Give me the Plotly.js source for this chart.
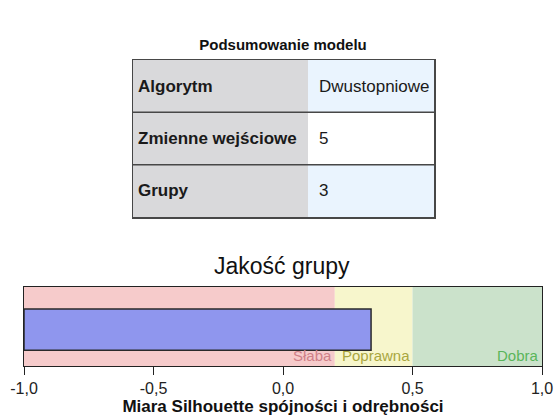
<!DOCTYPE html>
<html>
<head>
<meta charset="utf-8">
<script src="https://cdn.plot.ly/plotly-3.0.1.min.js"></script>
<style>html,body{margin:0;padding:0;background:#fff;}#chart{width:554px;height:417px;}</style>
</head>
<body>
<div id="chart"></div>
<script>
// ---- data ----
const tableLabels = ['Algorytm', 'Zmienne wejściowe', 'Grupy'];
const tableValues = ['Dwustopniowe', '5', '3'];
const silhouette = [0.34];
const bandEdges = [-1, 0.2, 0.5, 1];
const bandNames = ['Słaba', 'Poprawna', 'Dobra'];
const tickVals = [-1, -0.5, 0, 0.5, 1];
const tickText = ['-1,0', '-0,5', '0,0', '0,5', '1,0'];

// ---- styles ----
const W = 554, H = 417;
const FONT = 'Liberation Sans, Arial, sans-serif';
const bandColors = ['#f6cbcb', '#f7f6cc', '#cbe2cb'];
const bandTextColors = ['#cf8088', '#a9a63f', '#5ab55a'];
const cellColors = ['#d9d9db', '#eaf4fe', '#ffffff'];
const colWidths = [175, 126];
const BORDER = '#474747';

const px = v => v / W;
const py = v => 1 - v / H;

// table drawn as a heatmap on its own axes (row i, column j)
const colEdges = [0, colWidths[0], colWidths[0] + colWidths[1]];
const rowEdges = tableLabels.map((_, i) => i).concat([tableLabels.length]);
const tableZ = tableLabels.map((_, i) => [0, i % 2 === 0 ? 1 : 2]);

const tableTrace = {
  type: 'heatmap', xaxis: 'x2', yaxis: 'y2',
  x: colEdges, y: rowEdges, z: tableZ,
  zmin: 0, zmax: 2,
  colorscale: [[0, cellColors[0]], [0.5, cellColors[1]], [1, cellColors[2]]],
  showscale: false, hoverinfo: 'skip'
};

const bands = {
  type: 'bar', orientation: 'h',
  y: bandNames.map(() => 0),
  base: bandEdges.slice(0, -1),
  x: bandNames.map((_, i) => bandEdges[i + 1] - bandEdges[i]),
  width: bandNames.map(() => 1.2),
  marker: {color: bandColors, line: {width: 0}},
  hoverinfo: 'skip', showlegend: false
};

const bar = {
  type: 'bar', orientation: 'h',
  y: [0], base: [bandEdges[0]],
  x: silhouette.map(v => v - bandEdges[0]),
  width: [0.52],
  marker: {color: '#8f96ee', line: {color: '#2a2a2a', width: 1.5}},
  showlegend: false
};

const annotations = [];
tableLabels.forEach((t, i) => {
  annotations.push({
    text: '<b>' + t + '</b>', x: 3, y: i + 0.5, xref: 'x2', yref: 'y2',
    xanchor: 'left', yanchor: 'middle', showarrow: false,
    font: {family: FONT, size: 17, color: '#1a1a1a'}
  });
  annotations.push({
    text: tableValues[i], x: colWidths[0] + 9, y: i + 0.5, xref: 'x2', yref: 'y2',
    xanchor: 'left', yanchor: 'middle', showarrow: false,
    font: {family: FONT, size: 17, color: '#1a1a1a'}
  });
});
bandNames.forEach((n, i) => annotations.push({
  text: n, x: bandEdges[i + 1], y: -0.46, xref: 'x', yref: 'y',
  xanchor: 'right', yanchor: 'bottom', showarrow: false, xshift: -1, yshift: 0,
  font: {family: FONT, size: 15, color: bandTextColors[i]}
}));
annotations.push({
  text: 'Jakość grupy', x: px(282), y: py(266), xref: 'paper', yref: 'paper',
  xanchor: 'center', yanchor: 'middle', showarrow: false,
  font: {family: FONT, size: 23, color: '#111'}
});

// row separators of the table
const shapes = rowEdges.slice(1, -1).map(r => ({
  type: 'line', xref: 'x2 domain', yref: 'y2', x0: 0, x1: 1, y0: r, y1: r,
  line: {color: BORDER, width: 1.5}, layer: 'above'
}));

const layout = {
  width: W, height: H,
  margin: {l: 0, r: 0, t: 0, b: 0},
  paper_bgcolor: '#fff', plot_bgcolor: '#fff',
  barmode: 'overlay',
  showlegend: false,
  title: {
    text: '<b>Podsumowanie modelu</b>', x: px(283), xanchor: 'center',
    y: py(45), yref: 'container', yanchor: 'middle',
    font: {family: FONT, size: 15, color: '#111'}
  },
  xaxis: {
    domain: [px(24), px(542)], range: [-1, 1],
    tickvals: tickVals, ticktext: tickText,
    ticks: 'outside', ticklen: 8, tickcolor: '#222', tickwidth: 1,
    showline: true, linecolor: '#222', linewidth: 1, mirror: true,
    showgrid: false, zeroline: false, fixedrange: true,
    tickfont: {family: FONT, size: 16, color: '#222'},
    title: {text: '<b>Miara Silhouette spójności i odrębności</b>', standoff: 3,
            font: {family: FONT, size: 17, color: '#111'}},
    automargin: false
  },
  yaxis: {
    domain: [py(366), py(287)], range: [-0.46, 0.54],
    showticklabels: false, ticks: '', showgrid: false, zeroline: false,
    showline: true, linecolor: '#222', linewidth: 1, mirror: true, fixedrange: true
  },
  xaxis2: {
    domain: [px(133), px(434)], range: [0, colEdges[2]], anchor: 'y2',
    showticklabels: false, ticks: '', showgrid: false, zeroline: false,
    showline: true, linecolor: BORDER, linewidth: 1.5, mirror: true, fixedrange: true
  },
  yaxis2: {
    domain: [py(217), py(60)], range: [rowEdges[rowEdges.length - 1], 0], anchor: 'x2',
    showticklabels: false, ticks: '', showgrid: false, zeroline: false,
    showline: true, linecolor: BORDER, linewidth: 1.5, mirror: true, fixedrange: true
  },
  shapes: shapes,
  annotations: annotations
};

Plotly.newPlot('chart', [tableTrace, bands, bar], layout, {displayModeBar: false, staticPlot: true});
</script>
</body>
</html>
